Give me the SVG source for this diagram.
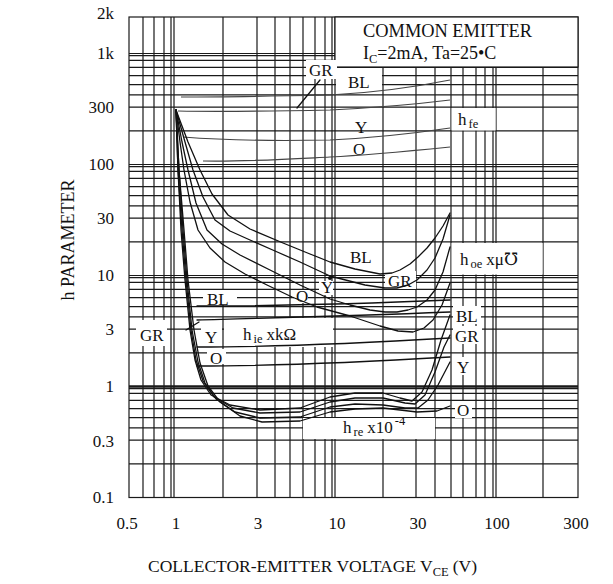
<svg xmlns="http://www.w3.org/2000/svg" width="613" height="584" viewBox="0 0 613 584">
<style>
.grid{stroke:#1a1a1a;stroke-width:1.2;fill:none}
.wb{fill:#fff;stroke:none}
.cv{stroke:#111;stroke-width:1.3;fill:none;stroke-linejoin:round;stroke-linecap:round}
.cvl{stroke:#444;stroke-width:1.2;fill:none;stroke-linejoin:round}
text{font-family:"Liberation Serif","DejaVu Serif",serif;fill:#111;font-size:17px}
.ax{text-anchor:end}
.xt{text-anchor:middle}
.sub{font-size:12.5px}
</style>
<rect x="0" y="0" width="613" height="584" fill="#fff"/>
<g id="grid">
<path class="grid" d="M143,17V497.5M154,17V497.5M164,17V497.5M171,17V497.5M174,17V497.5M223,17V497.5M257,17V497.5M275,17V497.5M290,17V497.5M303,17V497.5M315,17V497.5M325,17V497.5M332,17V497.5M335,17V497.5M383,17V497.5M416,17V497.5M435,17V497.5M451,17V497.5M463,17V497.5M476,17V497.5M485,17V497.5M493,17V497.5M496,17V497.5M543,17V497.5"/>
<path class="grid" d="M129,463.8H578M129,440.2H578M129,427.9H578M129,417.6H578M129,408.7H578M129,400.3H578M129,393.4H578M129,388.6H578M129,352.8H578M129,329.2H578M129,316.9H578M129,306.6H578M129,297.7H578M129,289.3H578M129,282.4H578M129,277.6H578M129,275.5H578M129,241.8H578M129,218.2H578M129,205.9H578M129,195.6H578M129,186.7H578M129,178.3H578M129,171.4H578M129,166.6H578M129,164.5H578M129,130.8H578M129,107.2H578M129,94.9H578M129,84.6H578M129,75.7H578M129,67.3H578M129,60.4H578M129,55.6H578M129,53.5H578"/>
<path class="grid" style="stroke-width:2.4" d="M129,386.5H578"/>
<rect class="grid" x="129" y="17" width="449" height="480.5"/>
</g>
<g id="label-boxes">
<rect x="335" y="17" width="243" height="50" fill="#fff" stroke="#1a1a1a" stroke-width="1.2"/>
<rect class="wb" x="306" y="60" width="31" height="19"/>
<rect class="wb" x="336" y="68" width="46" height="25"/>
<rect class="wb" x="336" y="109" width="46" height="21"/>
<rect class="wb" x="451.6" y="108" width="44" height="22.5"/>
<rect class="wb" x="451.6" y="243" width="91" height="31.5"/>
<rect class="wb" x="345" y="247" width="36" height="20"/>
<rect class="wb" x="385" y="271" width="31" height="18"/>
<rect class="wb" x="319" y="281" width="14" height="14"/>
<rect class="wb" x="294" y="290" width="14" height="13"/>
<rect class="wb" x="203" y="290" width="34" height="15"/>
<rect class="wb" x="136" y="320" width="31" height="26"/>
<rect class="wb" x="201" y="320" width="21" height="26"/>
<rect class="wb" x="224" y="318" width="109" height="29"/>
<rect class="wb" x="207" y="349" width="19" height="15"/>
<rect class="wb" x="303" y="418" width="132" height="21"/>
<rect class="wb" x="453" y="306" width="28" height="18"/>
<rect class="wb" x="453" y="326" width="29" height="18"/>
<rect class="wb" x="455" y="357" width="17" height="18"/>
<rect class="wb" x="455" y="401" width="17" height="17"/>
</g>
<g id="connectors">
<g id="hfe-curves">
<path class="cvl" d="M181,97 C230,97 280,96 330,95 C370,93 410,88 450,80"/>
<path class="cvl" d="M178,111 C230,112 280,111 330,110 C370,108 410,105 450,100"/>
<path class="cvl" d="M183,137 C220,140 280,141 330,140 C370,138 410,134 450,128"/>
<path class="cvl" d="M203,161 C240,162 290,159 330,157 C370,155 410,151 450,147"/>
<path class="cv" d="M320,80 L297,108"/>
</g>
<g id="hoe-curves">
<path class="cv" d="M176,110 L188,142 L200,170 L212,194 L228,215 L250,229 L283,243 L310,254 L330,262 L355,269 L380,274 L392,273 L400,270 L410,264 L418,257 L427,248 L435,238 L443,226 L450,213"/>
<path class="cv" d="M176,110 L185,142 L193,170 L203,197 L215,220 L230,231 L250,240 L275,251 L300,262 L330,276 L365,285 L385,288 L397,288 L408,285 L417,280 L427,270 L435,258 L443,239 L450,215"/>
<path class="cv" d="M176,110 L182,142 L188,170 L196,203 L207,230 L222,244 L240,255 L270,270 L300,285 L330,299 L350,305 L370,310 L385,312 L397,312 L408,310 L417,307 L427,300 L435,290 L443,272 L450,247"/>
<path class="cv" d="M176,110 L180,142 L184,170 L190,202 L198,230 L210,248 L225,262 L245,274 L267,285 L292,297 L317,307 L350,316 L380,326 L398,331 L413,332 L424,328 L433,320 L442,305 L450,283"/>
</g>
<g id="hre-curves">
<path class="cv" d="M176,110 L178,170 L181,230 L185,280 L190,330 L195,360 L201,380 L211,395 L230,405 L260,410 L300,408 L330,397 L355,393 L383,393 L400,398 L412,401 L422,392 L432,370 L441,340 L450,315"/>
<path class="cv" d="M176,110 L178,170 L182,230 L186,280 L191,330 L196,360 L203,381 L214,397 L233,408 L260,413 L300,412 L330,402 L355,398 L383,398 L405,403 L415,404 L425,395 L435,372 L444,347 L450,335"/>
<path class="cv" d="M176,110 L179,170 L183,230 L187,280 L192,330 L198,362 L205,383 L216,399 L235,412 L260,418 L300,417 L330,407 L355,404 L383,405 L405,408 L418,408 L428,400 L438,385 L450,362"/>
<path class="cv" d="M176,110 L179,170 L184,230 L188,280 L194,330 L200,363 L208,386 L220,402 L240,416 L262,422 L300,421 L330,412 L355,409 L383,408 L417,412 L437,411 L450,406"/>
</g>
<g id="hie-curves">
<path class="cv" d="M197,306 C260,306 330,305 450,300"/>
<path class="cv" d="M197,320 C260,318 330,317 450,312"/>
<path class="cv" d="M197,347 C260,347 330,345 450,338"/>
<path class="cv" d="M197,366 C260,366 330,364 450,357"/>
<path class="cv" d="M186,330 L199,322"/>
</g>
<circle cx="330" cy="278" r="2" fill="#111"/>
</g>
<g id="header">
<text x="363" y="37" textLength="169" lengthAdjust="spacingAndGlyphs" style="font-size:18px">COMMON EMITTER</text>
<text x="363" y="59" style="font-size:18px">I<tspan class="sub" dy="4">C</tspan><tspan dy="-4">=2mA, Ta=25•C</tspan></text>
</g>
<g id="hfe-labels">
<text x="309" y="76">GR</text>
<text x="348" y="88">BL</text>
<text x="355" y="133">Y</text>
<text x="353" y="155">O</text>
<text x="458" y="125">h<tspan class="sub" dx="2" dy="3">fe</tspan></text>
</g>
<g id="hoe-labels">
<text x="350" y="263">BL</text>
<text x="388" y="287">GR</text>
<text x="321" y="293">Y</text>
<text x="296" y="302">O</text>
<text x="460" y="265">h<tspan class="sub" dx="2" dy="3">oe</tspan><tspan dx="4" dy="-3">xμ℧</tspan></text>
</g>
<g id="hie-labels">
<text x="207" y="305">BL</text>
<text x="140" y="341">GR</text>
<text x="205" y="343">Y</text>
<text x="210" y="364">O</text>
<text x="243" y="340">h<tspan class="sub" dx="2" dy="3">ie</tspan><tspan dx="4" dy="-3">xkΩ</tspan></text>
</g>
<g id="hre-labels">
<text x="343" y="433">h<tspan class="sub" dx="2" dy="3">re</tspan><tspan dx="4" dy="-3">x10</tspan><tspan class="sub" dx="2" dy="-8">-4</tspan></text>
<text x="456" y="322">BL</text>
<text x="455" y="342">GR</text>
<text x="457" y="373">Y</text>
<text x="457" y="416">O</text>
</g>
<g id="axes">
<text class="ax" x="114" y="19">2k</text>
<text class="ax" x="114" y="59">1k</text>
<text class="ax" x="114" y="113">300</text>
<text class="ax" x="114" y="170">100</text>
<text class="ax" x="114" y="224">30</text>
<text class="ax" x="114" y="281">10</text>
<text class="ax" x="114" y="335">3</text>
<text class="ax" x="114" y="392">1</text>
<text class="ax" x="114" y="447">0.3</text>
<text class="ax" x="114" y="503">0.1</text>
<text class="xt" x="127" y="529">0.5</text>
<text class="xt" x="176" y="529">1</text>
<text class="xt" x="258" y="529">3</text>
<text class="xt" x="337" y="529">10</text>
<text class="xt" x="418" y="529">30</text>
<text class="xt" x="497" y="529">100</text>
<text class="xt" x="576" y="529">300</text>
<text x="148" y="572" style="font-size:17.5px">COLLECTOR-EMITTER VOLTAGE V<tspan class="sub" dy="4">CE</tspan><tspan dx="4" dy="-4">(V)</tspan></text>
<text transform="translate(74,240) rotate(-90)" class="xt" style="font-size:18px">h PARAMETER</text>
</g>
</svg>
